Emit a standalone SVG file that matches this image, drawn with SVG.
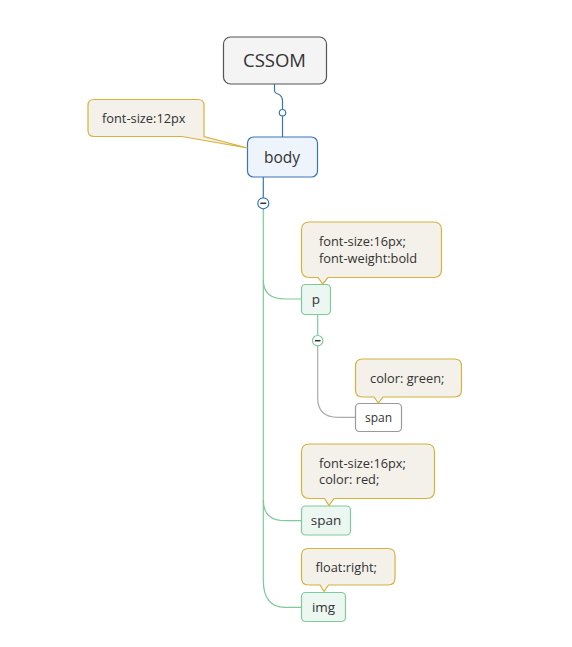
<svg xmlns="http://www.w3.org/2000/svg" width="572" height="647" viewBox="0 0 572 647">
<style>
text{font-family:"Open Sans","Noto Sans","DejaVu Sans",sans-serif;fill:#333}
.note{fill:#f3f1e9;stroke:#d4b23c;stroke-width:1.2}
.leaf{fill:#edf7f1;stroke:#80c99c;stroke-width:1.2}
.g{fill:none;stroke:#80c99c;stroke-width:1.2}
.gr{fill:none;stroke:#aaa;stroke-width:1.2}
.b{fill:none;stroke:#3b74b5;stroke-width:1.2}
.nt{font-size:12.8px}
</style>
<rect width="572" height="647" fill="#fff"/>
<g id="connectors">
<path class="b" d="M274.5,84 V90 Q274.5,93 278,94 Q282.5,96 282.5,101 V109.5"/>
<circle cx="282.5" cy="112.7" r="3.2" fill="#fff" stroke="#3b74b5" stroke-width="1.2"/>
<path class="b" d="M282.5,116 V137"/>
<path class="b" d="M263.3,177 V197.8"/>
<path class="g" d="M263.3,208.8 V580 Q263.3,607.3 285,607.3 H301.5"/>
<path class="g" d="M263.3,280 Q263.3,299 285,299 H301.5"/>
<path class="g" d="M263.3,500 Q263.3,520.7 285,520.7 H301.5"/>
<path class="g" d="M317.7,314.5 V335.5"/>
<path class="gr" d="M317.7,346 V398 Q317.7,417.3 338,417.3 H355.5"/>
<circle cx="263.3" cy="203.3" r="5.5" fill="#fff" stroke="#3b74b5" stroke-width="1.2"/>
<path d="M260.3,203.3 H266.3" stroke="#333" stroke-width="1.5"/>
<circle cx="317.7" cy="340.7" r="5.2" fill="#fff" stroke="#80c99c" stroke-width="1.2"/>
<path d="M314.9,340.7 H320.5" stroke="#333" stroke-width="1.5"/>
</g>
<g id="cssom">
<rect x="223.5" y="37" width="103" height="47" rx="7" fill="#f4f4f4" stroke="#555" stroke-width="1.2"/>
<text x="274.5" y="66.5" font-size="18.5" text-anchor="middle">CSSOM</text>
</g>
<g id="body">
<rect x="247.5" y="137" width="70" height="40" rx="6" fill="#eef4fb" stroke="#3b74b5" stroke-width="1.2"/>
<text x="282" y="162.5" font-size="15.5" text-anchor="middle">body</text>
</g>
<g id="note-body">
<path class="note" d="M94,99.5 H198 Q204,99.5 204,105.5 V136.5 L247.5,148 L182,136.5 H94 Q88,136.5 88,130.5 V105.5 Q88,99.5 94,99.5 Z"/>
<text class="nt" x="102" y="122.5">font-size:12px</text>
</g>
<g id="p">
<rect class="leaf" x="301.5" y="284.5" width="29" height="30" rx="4"/>
<text x="316" y="304" font-size="13.5" text-anchor="middle">p</text>
</g>
<g id="note-p">
<path class="note" d="M309.5,222 H433.5 Q441.5,222 441.5,230 V269.5 Q441.5,277.5 433.5,277.5 H328 L322.7,284 L318,277.5 H309.5 Q301.5,277.5 301.5,269.5 V230 Q301.5,222 309.5,222 Z"/>
<text class="nt" x="319" y="245.5">font-size:16px;</text>
<text class="nt" x="319" y="262.5">font-weight:bold</text>
</g>
<g id="span1">
<rect x="355.5" y="403.5" width="46" height="28" rx="4" fill="#fff" stroke="#999" stroke-width="1.2"/>
<text x="378.5" y="421.5" font-size="12" text-anchor="middle">span</text>
</g>
<g id="note-span1">
<path class="note" d="M362.5,359 H454.5 Q461.5,359 461.5,366 V390 Q461.5,397 454.5,397 H383 L378.3,403 L374,397 H362.5 Q355.5,397 355.5,390 V366 Q355.5,359 362.5,359 Z"/>
<text class="nt" x="370" y="382.5">color: green;</text>
</g>
<g id="span2">
<rect class="leaf" x="301.5" y="506" width="49" height="29" rx="4"/>
<text x="326" y="525" font-size="13.5" text-anchor="middle">span</text>
</g>
<g id="note-span2">
<path class="note" d="M309.5,444 H426.5 Q434.5,444 434.5,452 V490.5 Q434.5,498.5 426.5,498.5 H334 L329,505.5 L324.5,498.5 H309.5 Q301.5,498.5 301.5,490.5 V452 Q301.5,444 309.5,444 Z"/>
<text class="nt" x="319" y="467.5">font-size:16px;</text>
<text class="nt" x="319" y="484">color: red;</text>
</g>
<g id="img">
<rect class="leaf" x="301.5" y="592.5" width="44" height="29" rx="4"/>
<text x="323.5" y="611.5" font-size="13.5" text-anchor="middle">img</text>
</g>
<g id="note-img">
<path class="note" d="M308.5,548.5 H388 Q395,548.5 395,555.5 V578 Q395,585 388,585 H328.5 L324,591.5 L320,585 H308.5 Q301.5,585 301.5,578 V555.5 Q301.5,548.5 308.5,548.5 Z"/>
<text class="nt" x="315.5" y="571.5">float:right;</text>
</g>
</svg>
